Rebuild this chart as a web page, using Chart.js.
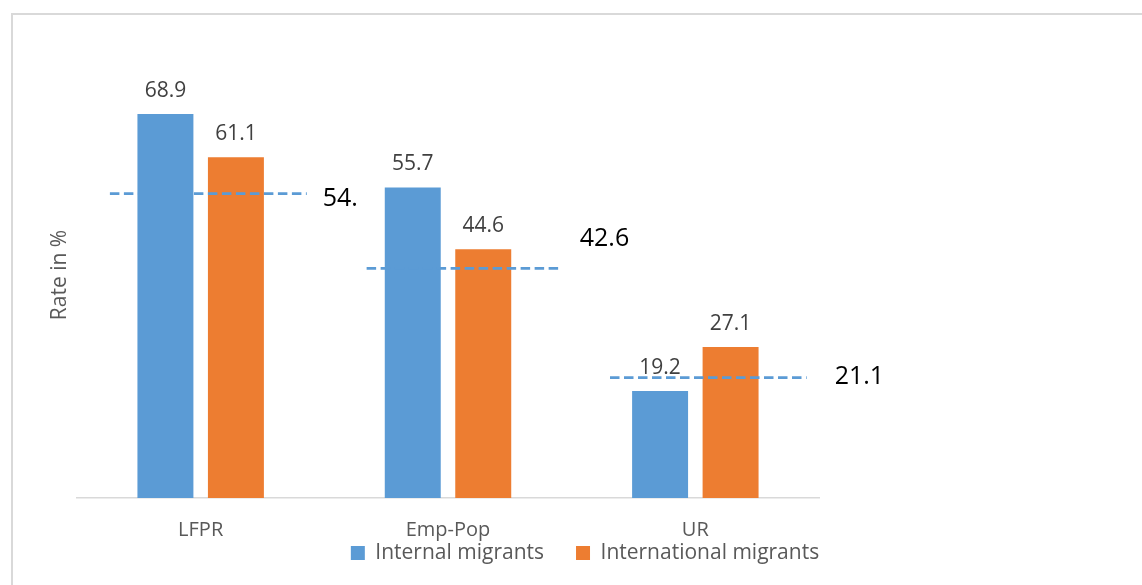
<!DOCTYPE html>
<html>
<head>
<meta charset="utf-8">
<script src="https://cdn.jsdelivr.net/npm/chart.js@4.4.0/dist/chart.umd.min.js"></script>
<style>
  html, body { margin: 0; padding: 0; background: #fff; overflow: hidden; }
  #wrap { position: relative; width: 1142px; height: 585px; }
  #frame { position: absolute; left: 11px; top: 13px; width: 1400px; height: 800px; border: 2px solid #d9d9d9; }
  #chart { position: absolute; left: 0; top: 0; }
</style>
</head>
<body>
<div id="wrap">
  <div id="frame"></div>
  <canvas id="chart" width="1142" height="585"></canvas>
</div>
<script>
const categories = ['LFPR', 'Emp-Pop', 'UR'];
const internalMigrants = [68.9, 55.7, 19.2];
const internationalMigrants = [61.1, 44.6, 27.1];
const refLevels = [54.6, 41.2, 21.6];
const refLabels = ['54.', '42.6', '21.1'];

const FONT = '"Open Sans", "DejaVu Sans", sans-serif';

// Value labels over the bars
const valueLabels = {
  id: 'valueLabels',
  afterDatasetsDraw(chart) {
    const ctx = chart.ctx;
    ctx.save();
    ctx.font = '21px ' + FONT;
    ctx.fillStyle = '#404040';
    ctx.textAlign = 'center';
    ctx.textBaseline = 'alphabetic';
    chart.data.datasets.forEach((ds, di) => {
      chart.getDatasetMeta(di).data.forEach((bar, i) => {
        ctx.fillText(ds.data[i].toFixed(1), bar.x, bar.y - 17);
      });
    });
    ctx.restore();
  }
};

// Dashed reference lines with their labels
const refLines = {
  id: 'refLines',
  drawLine(chart, i, opts) {
    const ctx = chart.ctx;
    const x = chart.scales.x, y = chart.scales.y;
    const cw = x.getPixelForValue(1) - x.getPixelForValue(0);
    const cx = x.getPixelForValue(i);
    const st = opts.style[i];
    const py = y.getPixelForValue(refLevels[i]);
    const x0 = cx + st.from * cw, x1 = cx + st.to * cw;
    ctx.save();
    ctx.strokeStyle = '#5B9BD5';
    ctx.lineWidth = 2.75;
    ctx.setLineDash([9.5, 4.5]);
    ctx.beginPath();
    ctx.moveTo(x0, py);
    ctx.lineTo(x1, py);
    ctx.stroke();
    ctx.setLineDash([]);
    ctx.font = '25px ' + FONT;
    ctx.fillStyle = '#000';
    ctx.textAlign = 'left';
    ctx.textBaseline = 'alphabetic';
    ctx.fillText(refLabels[i], x1 + st.dx, py + st.dy + 9);
    ctx.restore();
  },
  afterDatasetDraw(chart, args, opts) {
    // orange series is drawn first; lines flagged "under" sit below the blue bars
    if (args.index !== 1) return;
    opts.style.forEach((st, i) => { if (st.under) this.drawLine(chart, i, opts); });
  },
  afterDatasetsDraw(chart, args, opts) {
    opts.style.forEach((st, i) => { if (!st.under) this.drawLine(chart, i, opts); });
  }
};

// x axis is squeezed so the legend sits close; give its labels room again after layout
const unclipXLabels = {
  id: 'unclipXLabels',
  afterLayout(chart) {
    const s = chart.scales.x;
    s.bottom = chart.height;
    s.height = s.bottom - s.top;
  }
};

new Chart(document.getElementById('chart'), {
  type: 'bar',
  data: {
    labels: categories,
    datasets: [
      { label: 'Internal migrants', data: internalMigrants, backgroundColor: '#5B9BD5',
        categoryPercentage: 0.57, barPercentage: 0.794 },
      { label: 'International migrants', data: internationalMigrants, backgroundColor: '#ED7D31',
        categoryPercentage: 0.57, barPercentage: 0.794 }
    ]
  },
  options: {
    responsive: false,
    animation: false,
    layout: { padding: { left: 28, right: 0, top: 52, bottom: 11.5 } },
    plugins: {
      tooltip: { enabled: false },
      legend: {
        position: 'bottom',
        labels: {
          boxWidth: 14, boxHeight: 14, padding: 32,
          color: '#595959', font: { family: FONT, size: 21 }
        }
      },
      refLines: {
        style: [
          { from: -0.367, to: 0.429, dx: 16, dy: 3.5, under: true },
          { from: -0.329, to: 0.460, dx: 18, dy: -31, under: false },
          { from: -0.345, to: 0.450, dx: 28, dy: -3, under: false }
        ]
      }
    },
    scales: {
      x: {
        grid: { display: false, drawTicks: false },
        border: { display: true, color: '#d9d9d9', width: 1.5 },
        ticks: { color: '#595959', padding: 20, font: { family: FONT, size: 20 } },
        afterFit(s) { s.height = 12.5; }
      },
      y: {
        min: 0, max: 80,
        grid: { display: false, drawTicks: false },
        border: { display: false },
        ticks: { display: false },
        title: { display: true, text: 'Rate in %', color: '#595959',
                 padding: { top: 19, bottom: 0 }, font: { family: FONT, size: 21 } },
        afterFit(s) { s.width = 49; }
      },
      y2: {
        position: 'right',
        grid: { display: false, drawTicks: false },
        border: { display: false },
        ticks: { display: false },
        afterFit(s) { s.width = 323; }
      }
    }
  },
  plugins: [valueLabels, refLines, unclipXLabels]
});
</script>
</body>
</html>
